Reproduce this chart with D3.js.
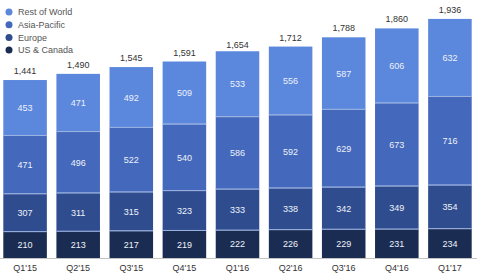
<!DOCTYPE html>
<html>
<head>
<meta charset="utf-8">
<script src="https://cdn.jsdelivr.net/npm/d3@7"></script>
<style>
  body { margin: 0; background: #fff; }
  svg { font-family: "Liberation Sans", Arial, sans-serif; }
</style>
</head>
<body>
<div id="chart"></div>
<script>
// Datos
const quarters = ["Q1'15", "Q2'15", "Q3'15", "Q4'15", "Q1'16", "Q2'16", "Q3'16", "Q4'16", "Q1'17"];
const usCanada = [210, 213, 217, 219, 222, 226, 229, 231, 234];
const europe = [307, 311, 315, 323, 333, 338, 342, 349, 354];
const asiaPacific = [471, 496, 522, 540, 586, 592, 629, 673, 716];
const restOfWorld = [453, 471, 492, 509, 533, 556, 587, 606, 632];
const totals = [1441, 1490, 1545, 1591, 1654, 1712, 1788, 1860, 1936];

const seriesNames = ['US & Canada', 'Europe', 'Asia-Pacific', 'Rest of World'];
const seriesValues = [usCanada, europe, asiaPacific, restOfWorld];
const colors = ['#1b2c52', '#2f4c8e', '#4468bb', '#5b87dd'];

const width = 477, height = 278;

let svg = d3.select('#chart').append('svg')
    .attr('width', width)
    .attr('height', height);

let table = quarters.map(function(q, i) {
    let row = {quarter: q};
    seriesNames.forEach(function(s, j) { row[s] = seriesValues[j][i]; });
    return row;
});

let stack = d3.stack().keys(seriesNames)(table);

let x = d3.scaleBand()
    .domain(quarters)
    .range([-2, 477])
    .paddingInner(0.18)
    .paddingOuter(0.1);

let y = d3.scaleLinear()
    .domain([0, 2000])
    .range([258, 11]);

// Barras
let layers = svg.append('g')
    .selectAll('g')
    .data(stack)
    .enter()
    .append('g')
    .attr('fill', function(d, i) { return colors[i]; });

layers.selectAll('rect')
    .data(function(d) { return d; })
    .enter()
    .append('rect')
    .attr('x', function(d) { return x(d.data.quarter); })
    .attr('y', function(d) { return y(d[1]); })
    .attr('width', x.bandwidth())
    .attr('height', function(d) { return y(d[0]) - y(d[1]); });

// Separadores claros entre segmentos
layers.filter(function(d, i) { return i > 0; })
    .selectAll('line')
    .data(function(d) { return d; })
    .enter()
    .append('line')
    .attr('x1', function(d) { return x(d.data.quarter); })
    .attr('x2', function(d) { return x(d.data.quarter) + x.bandwidth(); })
    .attr('y1', function(d) { return y(d[0]) - 0.5; })
    .attr('y2', function(d) { return y(d[0]) - 0.5; })
    .attr('stroke', '#9db3e0')
    .attr('stroke-width', 1);

// Etiquetas internas
layers.selectAll('text')
    .data(function(d) { return d; })
    .enter()
    .append('text')
    .attr('x', function(d) { return x(d.data.quarter) + x.bandwidth() / 2; })
    .attr('y', function(d) { return (y(d[0]) + y(d[1])) / 2; })
    .attr('dy', '0.35em')
    .attr('text-anchor', 'middle')
    .attr('fill', '#eef2fa')
    .style('font-size', '9px')
    .text(function(d) { return d[1] - d[0]; });

// Totales
svg.append('g')
    .selectAll('text')
    .data(quarters)
    .enter()
    .append('text')
    .attr('x', function(d) { return x(d) + x.bandwidth() / 2; })
    .attr('y', function(d, i) { return y(totals[i]) - 6; })
    .attr('text-anchor', 'middle')
    .attr('fill', '#333')
    .style('font-size', '9px')
    .text(function(d, i) { return d3.format(',')(totals[i]); });

// Eje X
let xAxis = svg.append('g')
    .attr('transform', 'translate(0,' + 258 + ')')
    .call(d3.axisBottom(x).tickSize(0).tickPadding(7));
xAxis.select('.domain').attr('stroke', '#c4c4c4').attr('d', 'M0,0.5H477');
xAxis.selectAll('text')
    .attr('fill', '#333')
    .style('font-size', '9px')
    .style('font-family', '"Liberation Sans", Arial, sans-serif');

// Leyenda
let legendNames = seriesNames.slice().reverse();
let legendColors = colors.slice().reverse();
let legend = svg.append('g')
    .selectAll('g')
    .data(legendNames)
    .enter()
    .append('g')
    .attr('transform', function(d, i) { return 'translate(9,' + (12 + i * 12.7) + ')'; });

legend.append('circle')
    .attr('r', 3.5)
    .attr('fill', function(d, i) { return legendColors[i]; });

legend.append('text')
    .attr('x', 9)
    .attr('dy', '0.35em')
    .attr('fill', '#555')
    .style('font-size', '9px')
    .text(function(d) { return d; });
</script>
</body>
</html>
